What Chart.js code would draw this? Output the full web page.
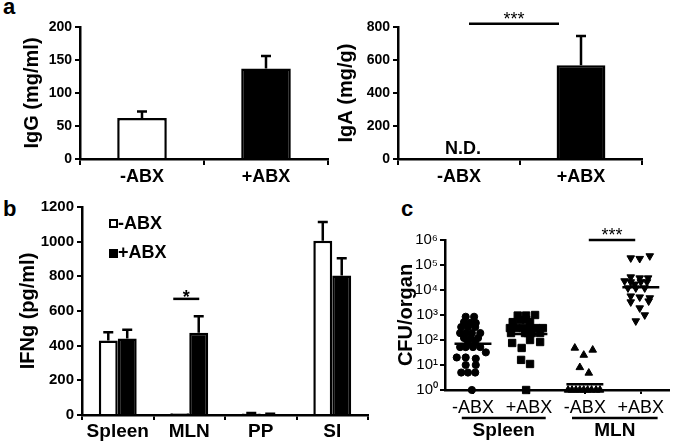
<!DOCTYPE html>
<html>
<head>
<meta charset="utf-8">
<script src="https://cdn.jsdelivr.net/npm/chart.js@4.4.0/dist/chart.umd.min.js"></script>
<style>
  body { margin: 0; width: 675px; height: 445px; background: #fff; position: relative; overflow: hidden;
         font-family: "Liberation Sans", Arial, sans-serif; }
  .box { position: absolute; }
  .letter { position: absolute; font-weight: bold; font-size: 22px; line-height: 1; }
</style>
</head>
<body>
<div class="letter" style="left:3px;top:-4px">a</div>
<div class="letter" style="left:3px;top:198px">b</div>
<div class="letter" style="left:401px;top:198px">c</div>

<div class="box" style="left:0;top:0;width:330px;height:200px"><canvas id="igg"></canvas></div>
<div class="box" style="left:330px;top:0;width:345px;height:200px"><canvas id="iga"></canvas></div>
<div class="box" style="left:0;top:195px;width:380px;height:250px"><canvas id="ifng"></canvas></div>
<div class="box" style="left:390px;top:195px;width:285px;height:250px"><canvas id="cfu"></canvas></div>

<script>
// panel a
const abxLabels = ['-ABX', '+ABX'];
const iggMean = [62, 137];
const iggSem = [10, 19];
const igaMean = [null, 568];   // -ABX not detected
const igaSem = [null, 177];

// panel b
const organs = ['Spleen', 'MLN', 'PP', 'SI'];
const ifngNeg = [430, 10, 8, 1005];
const ifngNegSem = [48, 0, 3, 108];
const ifngPos = [442, 475, 5, 805];
const ifngPosSem = [50, 95, 2, 100];

// panel c (x jitter in fractions of a category)
const cfuLabels = ['-ABX', '+ABX', '-ABX', '+ABX'];
const cfuTicks = [1, 10, 100, 1e3, 1e4, 1e5, 1e6];
const spleenNeg = [850, 850, 520, 480, 480, 330, 330, 330, 190, 190, 190, 190, 120, 120, 120, 80, 80,
                   52, 52, 52, 52, 32, 20, 20, 18, 10, 10, 5, 5, 5, 1];
const spleenNegJit = [-0.13, 0.02, -0.16, -0.05, 0.05, -0.21, -0.09, 0.04, -0.23, -0.13, -0.02, 0.13, -0.16, -0.04, 0.09, -0.09, 0.04,
                      -0.23, -0.13, 0, 0.13, 0.23, -0.29, -0.13, 0.05, -0.13, 0.05, -0.21, -0.09, 0.04, -0.02];
const spleenPos = [950, 950, 1000, 520, 630, 650, 520, 300, 300, 300, 300, 300, 300, 190, 190, 190, 190, 190,
                   76, 100, 83, 48, 16, 11, 1];
const spleenPosJit = [-0.2, -0.05, 0.11, -0.29, -0.16, -0.05, 0.02, -0.34, -0.23, -0.11, 0.02, 0.13, 0.25, -0.32, -0.07, -0.02, 0.05, 0.2,
                      -0.3, 0.02, 0.2, -0.13, -0.14, 0.02, -0.05];
const mlnNeg = [48, 40, 25, 8, 4.8, 1, 1, 1, 1, 1, 1, 1, 1, 1];
const mlnNegJit = [-0.18, 0.14, -0.02, -0.09, 0.07, -0.3, -0.23, -0.16, -0.09, -0.02, 0.05, 0.12, 0.2, 0.27];
const mlnPos = [190000, 180000, 230000, 23000, 33000, 30000, 30000, 21000, 17000, 21000, 21000, 12000, 12000, 12000,
                5700, 5200, 4800, 3300, 3600, 1900, 1000, 575];
const mlnPosJit = [-0.18, -0.02, 0.16, -0.29, -0.18, -0.02, 0.13, -0.18, -0.11, 0, 0.11, -0.23, -0.09, 0.07,
                   -0.18, -0.02, 0.16, -0.18, 0.14, -0.02, 0.07, -0.09];
const cfuMedians = [70, 175, 1.7, 13000];

const FONT = '"Liberation Sans", Arial, sans-serif';
Chart.defaults.font.family = FONT;
Chart.defaults.color = '#000';
Chart.defaults.animation = false;
Chart.defaults.maintainAspectRatio = false;
Chart.defaults.plugins.legend.display = false;
Chart.defaults.plugins.tooltip.enabled = false;

function axisLook(tickLen) {
  return {
    border: { color: '#000', width: 2.5 },
    grid: { drawOnChartArea: false, color: '#000', lineWidth: 2, tickLength: tickLen }
  };
}

function sigBar(ctx, x0, x1, y, stars, font, lift) {
  ctx.beginPath();
  ctx.moveTo(x0, y);
  ctx.lineTo(x1, y);
  ctx.stroke();
  ctx.font = font;
  ctx.textAlign = 'center';
  ctx.textBaseline = 'alphabetic';
  ctx.fillText(stars, (x0 + x1) / 2, y + lift);
}

// upward error bars from the `sem` array of each dataset
const errorBars = {
  id: 'errorBars',
  afterDatasetsDraw(chart) {
    const ctx = chart.ctx, y = chart.scales.y;
    ctx.save();
    ctx.strokeStyle = '#000';
    ctx.lineWidth = 2.5;
    chart.data.datasets.forEach((ds, di) => {
      chart.getDatasetMeta(di).data.forEach((bar, i) => {
        if (ds.data[i] == null || !ds.sem[i]) return;
        const top = y.getPixelForValue(ds.data[i] + ds.sem[i]);
        ctx.beginPath();
        ctx.moveTo(bar.x, bar.y);
        ctx.lineTo(bar.x, top);
        ctx.moveTo(bar.x - 5, top);
        ctx.lineTo(bar.x + 5, top);
        ctx.stroke();
      });
    });
    ctx.restore();
  }
};

//################### panel a, IgG

new Chart(document.getElementById('igg'), {
  type: 'bar',
  data: {
    labels: abxLabels,
    datasets: [{
      data: iggMean, sem: iggSem,
      backgroundColor: ['#fff', '#000'], borderColor: '#000', borderWidth: 2.5,
      barPercentage: 0.4, categoryPercentage: 1
    }]
  },
  options: {
    layout: { padding: { left: 20, top: 27, right: 2, bottom: 0 } },
    scales: {
      x: { ...axisLook(6), ticks: { font: { size: 18, weight: 'bold' }, padding: 1 },
           afterFit: s => { s.height = 41; } },
      y: { ...axisLook(5), min: 0, max: 200,
           ticks: { stepSize: 50, font: { size: 14, weight: 'bold' }, padding: 3, callback: v => String(v) },
           title: { display: true, text: 'IgG (mg/ml)', font: { size: 20, weight: 'bold' }, padding: 0 },
           afterFit: s => { s.width = 60; } }
    }
  },
  plugins: [errorBars]
});

//################### panel a, IgA

const igaMarks = {
  id: 'igaMarks',
  afterDraw(chart) {
    const { ctx, scales: { x, y } } = chart;
    const c0 = x.getPixelForValue(0), c1 = x.getPixelForValue(1);
    ctx.save();
    ctx.fillStyle = '#000';
    ctx.strokeStyle = '#000';
    ctx.lineWidth = 2.5;
    ctx.font = 'bold 18px ' + FONT;
    ctx.textAlign = 'center';
    ctx.fillText('N.D.', c0 + 4, y.bottom - 5);
    sigBar(ctx, c0 + 10, c1 - 22, y.getPixelForValue(820), '***', '18px ' + FONT, 1);
    ctx.restore();
  }
};

new Chart(document.getElementById('iga'), {
  type: 'bar',
  data: {
    labels: abxLabels,
    datasets: [{
      data: igaMean, sem: igaSem,
      backgroundColor: '#000', borderColor: '#000', borderWidth: 2.5,
      barPercentage: 0.4, categoryPercentage: 1
    }]
  },
  options: {
    layout: { padding: { left: 4, top: 27, right: 33, bottom: 0 } },
    scales: {
      x: { ...axisLook(6), ticks: { font: { size: 18, weight: 'bold' }, padding: 1 },
           afterFit: s => { s.height = 41; } },
      y: { ...axisLook(5), min: 0, max: 800,
           ticks: { stepSize: 200, font: { size: 14, weight: 'bold' }, padding: 3, callback: v => String(v) },
           title: { display: true, text: 'IgA (mg/g)', font: { size: 20, weight: 'bold' }, padding: 0 },
           afterFit: s => { s.width = 64; } }
    }
  },
  plugins: [errorBars, igaMarks]
});

//################### panel b, IFNg

const ifngMarks = {
  id: 'ifngMarks',
  afterDraw(chart) {
    const { ctx, chartArea: a, scales: { x, y } } = chart;
    ctx.save();
    ctx.fillStyle = '#000';
    ctx.strokeStyle = '#000';
    ctx.lineWidth = 2;
    // legend
    ctx.font = 'bold 18px ' + FONT;
    ctx.textAlign = 'left';
    ctx.textBaseline = 'alphabetic';
    ctx.strokeRect(a.left + 28, a.top + 13, 7, 7);
    ctx.fillText('-ABX', a.left + 36, a.top + 22);
    ctx.fillRect(a.left + 27, a.top + 42, 9, 9);
    ctx.fillText('+ABX', a.left + 36, a.top + 51);
    // MLN significance
    ctx.lineWidth = 2.5;
    const cm = x.getPixelForValue(1);
    sigBar(ctx, cm - 16, cm + 10, y.getPixelForValue(670), '*', 'bold 18px ' + FONT, 4);
    ctx.restore();
  }
};

new Chart(document.getElementById('ifng'), {
  type: 'bar',
  data: {
    labels: organs,
    datasets: [
      { label: '-ABX', data: ifngNeg, sem: ifngNegSem, backgroundColor: '#fff', borderColor: '#000', borderWidth: 2.5,
        barPercentage: 1, categoryPercentage: 0.53 },
      { label: '+ABX', data: ifngPos, sem: ifngPosSem, backgroundColor: '#000', borderColor: '#000', borderWidth: 2.5,
        barPercentage: 1, categoryPercentage: 0.53 }
    ]
  },
  options: {
    layout: { padding: { left: 16, top: 12, right: 12, bottom: 0 } },
    scales: {
      x: { ...axisLook(5), ticks: { font: { size: 19, weight: 'bold' }, padding: 0 },
           afterFit: s => { s.height = 30; } },
      y: { ...axisLook(5), min: 0, max: 1200,
           ticks: { stepSize: 200, font: { size: 15, weight: 'bold' }, padding: 3, callback: v => String(v) },
           title: { display: true, text: 'IFNg (pg/ml)', font: { size: 20, weight: 'bold' }, padding: 0 },
           afterFit: s => { s.width = 66; } }
    }
  },
  plugins: [errorBars, ifngMarks]
});

//################### panel c, CFU

const sup = ['⁰', '¹', '²', '³', '⁴', '⁵', '⁶'];

function pts(cat, vals, jit) {
  return vals.map((v, i) => ({ x: cat + jit[i], y: v }));
}

const cfuMarks = {
  id: 'cfuMarks',
  afterDatasetsDraw(chart) {
    const { ctx, scales: { x, y } } = chart;
    const w = x.getPixelForValue(1) - x.getPixelForValue(0);
    ctx.save();
    ctx.strokeStyle = '#000';
    ctx.lineWidth = 2.5;
    cfuMedians.forEach((m, i) => {
      const cx = x.getPixelForValue(i), my = y.getPixelForValue(m);
      ctx.beginPath();
      ctx.moveTo(cx - 0.33 * w, my);
      ctx.lineTo(cx + 0.33 * w, my);
      ctx.stroke();
    });
    ctx.restore();
  },
  afterDraw(chart) {
    const { ctx, scales: { x, y } } = chart;
    ctx.save();
    ctx.fillStyle = '#000';
    ctx.strokeStyle = '#000';
    ctx.lineWidth = 2.5;
    sigBar(ctx, x.getPixelForValue(2.07), x.getPixelForValue(2.9), y.getPixelForValue(1e6), '***', '18px ' + FONT, 1);
    // organ groups under the tick labels
    const lineY = y.bottom + 28;
    [['Spleen', -0.2, 1.3], ['MLN', 1.77, 3.3]].forEach(([name, a, b]) => {
      const x0 = x.getPixelForValue(a), x1 = x.getPixelForValue(b);
      ctx.beginPath();
      ctx.moveTo(x0, lineY);
      ctx.lineTo(x1, lineY);
      ctx.stroke();
      ctx.font = 'bold 19px ' + FONT;
      ctx.textAlign = 'center';
      ctx.fillText(name, (x0 + x1) / 2, lineY + 18);
    });
    ctx.restore();
  }
};

const dot = { backgroundColor: '#000', borderColor: '#000', borderWidth: 1, clip: false };

new Chart(document.getElementById('cfu'), {
  type: 'scatter',
  data: {
    datasets: [
      { ...dot, data: pts(0, spleenNeg, spleenNegJit), pointStyle: 'circle', pointRadius: 3.6 },
      { ...dot, data: pts(1, spleenPos, spleenPosJit), pointStyle: 'rect', pointRadius: 5.2 },
      { ...dot, data: pts(2, mlnNeg, mlnNegJit), pointStyle: 'triangle', pointRadius: 4.4 },
      { ...dot, data: pts(3, mlnPos, mlnPosJit), pointStyle: 'triangle', pointRotation: 180, pointRadius: 4.4 }
    ]
  },
  options: {
    layout: { padding: { left: 4, top: 45, right: 5, bottom: 0 } },
    scales: {
      x: { ...axisLook(4), type: 'linear', min: -0.5, max: 3.5,
           afterBuildTicks: s => { s.ticks = [0, 1, 2, 3].map(v => ({ value: v })); },
           ticks: { font: { size: 18 }, padding: 3, callback: v => cfuLabels[v] },
           afterFit: s => { s.height = 55; } },
      y: { ...axisLook(5), type: 'logarithmic', min: 1, max: 1e6,
           afterBuildTicks: s => { s.ticks = cfuTicks.map(v => ({ value: v })); },
           ticks: { font: { size: 15 }, padding: 2, callback: v => '10' + sup[Math.round(Math.log10(v))] },
           title: { display: true, text: 'CFU/organ', font: { size: 20, weight: 'bold' }, padding: 0 },
           afterFit: s => { s.width = 51; } }
    }
  },
  plugins: [cfuMarks]
});
</script>
</body>
</html>
